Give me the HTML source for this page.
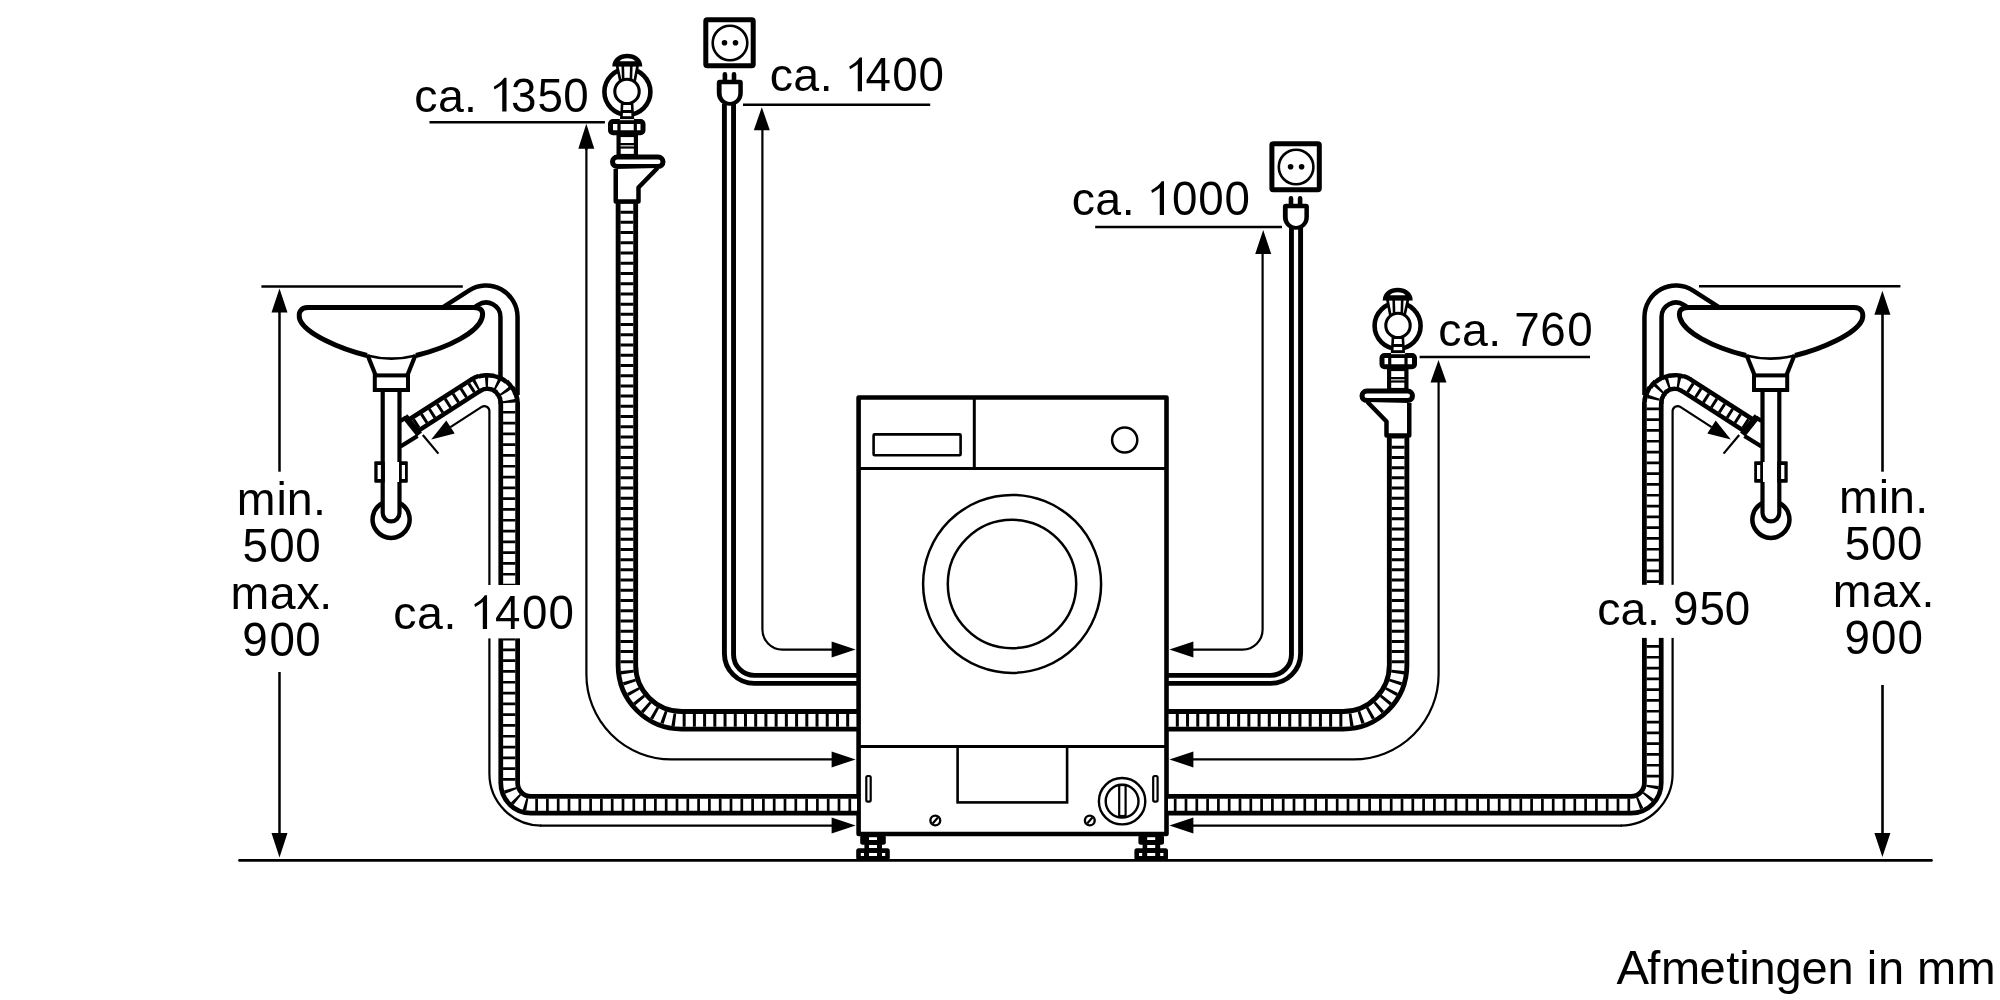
<!DOCTYPE html>
<html><head><meta charset="utf-8"><style>
html,body{margin:0;padding:0;background:#fff;width:2000px;height:1000px;overflow:hidden}
svg{display:block;will-change:transform}
text{font-family:"Liberation Sans",sans-serif;fill:#000}
</style></head><body>
<svg width="2000" height="1000" viewBox="0 0 2000 1000">
<rect width="2000" height="1000" fill="#fff"/>
<path d="M239.5 860.4 H1931.5" stroke="#000" stroke-width="2.7" stroke-linecap="round"/>
<rect x="858.6" y="397.5" width="307.9" height="436.5" fill="#fff" stroke="#000" stroke-width="4.6" stroke-linejoin="round"/><path d="M860 468.5 H1165" fill="none" stroke="#000" stroke-width="3"/><path d="M974.3 399 V468" fill="none" stroke="#000" stroke-width="3"/><rect x="873.6" y="434.4" width="87" height="20.8" fill="none" stroke="#000" stroke-width="2.6" rx="1"/><circle cx="1124.7" cy="440" r="12.6" fill="none" stroke="#000" stroke-width="2.5"/><circle cx="1012.1" cy="583.9" r="89" fill="none" stroke="#000" stroke-width="2.5"/><circle cx="1012" cy="584" r="64.2" fill="none" stroke="#000" stroke-width="2.5"/><path d="M860 746.5 H1165" fill="none" stroke="#000" stroke-width="3"/><rect x="957.6" y="746.5" width="109.5" height="55.9" fill="none" stroke="#000" stroke-width="2.6"/><rect x="866.3" y="776" width="4.4" height="25.6" rx="1.5" fill="none" stroke="#000" stroke-width="2.2"/><rect x="1153.2" y="776" width="4.4" height="25.6" rx="1.5" fill="none" stroke="#000" stroke-width="2.2"/><circle cx="935.3" cy="820.5" r="4.9" fill="none" stroke="#000" stroke-width="2.4"/><path d="M932.6999999999999 823.5 L937.9 817.5" fill="none" stroke="#000" stroke-width="2.2"/><circle cx="1089.8" cy="820.5" r="4.9" fill="none" stroke="#000" stroke-width="2.4"/><path d="M1087.2 823.5 L1092.3999999999999 817.5" fill="none" stroke="#000" stroke-width="2.2"/><circle cx="1122.1" cy="801.2" r="23.2" fill="none" stroke="#000" stroke-width="2.4"/><circle cx="1122.1" cy="801.2" r="16.4" fill="none" stroke="#000" stroke-width="2.4"/><rect x="1119.2" y="785" width="6.4" height="31" fill="none" stroke="#000" stroke-width="2.2"/><g transform="translate(0,0)"><rect x="860.2" y="835" width="25.6" height="9.8" rx="2.5" fill="#000"/><rect x="864.4" y="843" width="17.6" height="7" fill="#000"/><rect x="856.2" y="848.2" width="33.6" height="12" rx="2.5" fill="#000"/><rect x="869" y="837.2" width="8" height="2.8" fill="#fff"/><rect x="869" y="845" width="8" height="3" fill="#fff"/><rect x="860.8" y="853" width="3.2" height="3" fill="#fff"/><rect x="869" y="853" width="8" height="3" fill="#fff"/><rect x="882" y="853" width="3.2" height="3" fill="#fff"/></g><g transform="translate(278.2,0)"><rect x="860.2" y="835" width="25.6" height="9.8" rx="2.5" fill="#000"/><rect x="864.4" y="843" width="17.6" height="7" fill="#000"/><rect x="856.2" y="848.2" width="33.6" height="12" rx="2.5" fill="#000"/><rect x="869" y="837.2" width="8" height="2.8" fill="#fff"/><rect x="869" y="845" width="8" height="3" fill="#fff"/><rect x="860.8" y="853" width="3.2" height="3" fill="#fff"/><rect x="869" y="853" width="8" height="3" fill="#fff"/><rect x="882" y="853" width="3.2" height="3" fill="#fff"/></g>
<path d="M857 720.3 H681.9 A55 55 0 0 1 626.9 665.3 V203" fill="none" stroke="#000" stroke-width="22.4"/><path d="M857 720.3 H681.9 A55 55 0 0 1 626.9 665.3 V203" fill="none" stroke="#fff" stroke-width="12.7"/><path d="M857 720.3 H681.9 A55 55 0 0 1 626.9 665.3 V203" fill="none" stroke="#000" stroke-width="12.899999999999999" stroke-dasharray="3.0 7.220000000000001" stroke-dashoffset="2.4"/>
<path d="M1168 720.3 H1343.1 A55 55 0 0 0 1398.1 665.3 V437" fill="none" stroke="#000" stroke-width="22.4"/><path d="M1168 720.3 H1343.1 A55 55 0 0 0 1398.1 665.3 V437" fill="none" stroke="#fff" stroke-width="12.7"/><path d="M1168 720.3 H1343.1 A55 55 0 0 0 1398.1 665.3 V437" fill="none" stroke="#000" stroke-width="12.899999999999999" stroke-dasharray="3.0 7.220000000000001" stroke-dashoffset="2.4"/>
<path d="M857 683.4 H754.4 A30 30 0 0 1 724.4 653.4 V104" fill="none" stroke="#000" stroke-width="4.9"/><path d="M857 675.4 H754.55 A21 21 0 0 1 733.55 654.4 V104" fill="none" stroke="#000" stroke-width="4.9"/>
<path d="M1168 683.4 H1270.6 A30 30 0 0 0 1300.6 653.4 V228" fill="none" stroke="#000" stroke-width="4.9"/><path d="M1168 675.4 H1270.45 A21 21 0 0 0 1291.45 654.4 V228" fill="none" stroke="#000" stroke-width="4.9"/>
<path d="M586.4 146 V674.4 A85 85 0 0 0 671.4 759.4 H834" fill="none" stroke="#000" stroke-width="2.2"/>
<path d="M1438.6 380 V674.4 A85 85 0 0 1 1353.6 759.4 H1191" fill="none" stroke="#000" stroke-width="2.2"/>
<path d="M855.6 759.4 L831.6 767.4 L831.6 751.4 Z" fill="#000"/>
<path d="M1169.4 759.4 L1193.4 751.4 L1193.4 767.4 Z" fill="#000"/>
<path d="M762.4 128 V629.6 A20 20 0 0 0 782.4 649.6 H834" fill="none" stroke="#000" stroke-width="2.2"/>
<path d="M1262.6 252 V629.6 A20 20 0 0 1 1242.6 649.6 H1191" fill="none" stroke="#000" stroke-width="2.2"/>
<path d="M855.6 649.6 L831.6 657.6 L831.6 641.6 Z" fill="#000"/>
<path d="M1169.4 649.6 L1193.4 641.6 L1193.4 657.6 Z" fill="#000"/>
<path d="M540 825.6 H834" fill="none" stroke="#000" stroke-width="2.2"/>
<path d="M1622.0 825.6 H1191" fill="none" stroke="#000" stroke-width="2.2"/>
<path d="M855.6 825.6 L831.6 833.6 L831.6 817.6 Z" fill="#000"/>
<path d="M1169.4 825.6 L1193.4 817.6 L1193.4 833.6 Z" fill="#000"/>
<path d="M429.5 122.2 H604.9" fill="none" stroke="#000" stroke-width="2.5"/>
<path d="M586.3 146 V150" fill="none" stroke="#000" stroke-width="2.2"/>
<path d="M586.3 123.8 L594.3 148.8 L578.3 148.8 Z" fill="#000"/>
<path d="M743 104.8 H930.2" fill="none" stroke="#000" stroke-width="2.5"/>
<path d="M761.8 107.2 L769.8 130.2 L753.8 130.2 Z" fill="#000"/>
<path d="M1095.2 227.1 H1282" fill="none" stroke="#000" stroke-width="2.5"/>
<path d="M1263.2 230.0 L1271.2 254.0 L1255.2 254.0 Z" fill="#000"/>
<path d="M1419.6 357.1 H1590" fill="none" stroke="#000" stroke-width="2.5"/>
<path d="M1438.5 360.0 L1446.5 382.5 L1430.5 382.5 Z" fill="#000"/>
<rect x="705.8" y="19.7" width="47.4" height="46.1" rx="1.5" fill="#fff" stroke="#000" stroke-width="5"/><circle cx="730" cy="43" r="17.3" fill="none" stroke="#000" stroke-width="2.6"/><circle cx="724.5" cy="42.8" r="2.8" fill="#000"/><circle cx="735.5" cy="42.8" r="2.8" fill="#000"/><rect x="722.6" y="72.1" width="4.6" height="10" rx="2.3" fill="#000"/><rect x="731.7" y="72.1" width="4.6" height="10" rx="2.3" fill="#000"/><path d="M716.8 82.8 Q716.8 79.8 719.8 79.8 H739.8 Q742.8 79.8 742.8 82.8 V93 C742.8 100.5 737 105.8 729.8 105.8 C722.6 105.8 716.8 100.5 716.8 93 Z" fill="#000"/><path d="M721.6 84.2 H738.3 V93 C738.3 98.5 734.5 102 729.95 102 C725.4 102 721.6 98.5 721.6 93 Z" fill="#fff"/>
<g transform="translate(566.1,124)"><rect x="705.8" y="19.7" width="47.4" height="46.1" rx="1.5" fill="#fff" stroke="#000" stroke-width="5"/><circle cx="730" cy="43" r="17.3" fill="none" stroke="#000" stroke-width="2.6"/><circle cx="724.5" cy="42.8" r="2.8" fill="#000"/><circle cx="735.5" cy="42.8" r="2.8" fill="#000"/><rect x="722.6" y="72.1" width="4.6" height="10" rx="2.3" fill="#000"/><rect x="731.7" y="72.1" width="4.6" height="10" rx="2.3" fill="#000"/><path d="M716.8 82.8 Q716.8 79.8 719.8 79.8 H739.8 Q742.8 79.8 742.8 82.8 V93 C742.8 100.5 737 105.8 729.8 105.8 C722.6 105.8 716.8 100.5 716.8 93 Z" fill="#000"/><path d="M721.6 84.2 H738.3 V93 C738.3 98.5 734.5 102 729.95 102 C725.4 102 721.6 98.5 721.6 93 Z" fill="#fff"/></g>
<circle cx="627.4" cy="91.8" r="23" fill="none" stroke="#000" stroke-width="4.6"/><path d="M616.9 65 L620.5 81.5 H634.6 L637.7 65 Z" fill="#fff" stroke="#000" stroke-width="2.7" stroke-linejoin="round"/><path d="M622.8 66 L623.2 80" fill="none" stroke="#000" stroke-width="2.6"/><path d="M631.3 66 L630.9 80" fill="none" stroke="#000" stroke-width="2.6"/><path d="M612.3 66.5 C612.3 49.5 642.3 49.5 642.3 66.5 Z" fill="#000"/><path d="M619.5 61.3 C621.5 57.2 633.1 57.2 635.1 61.3 Z" fill="#fff"/><circle cx="627" cy="91.4" r="12.2" fill="#fff" stroke="#000" stroke-width="3.1"/><path d="M622.1 103.8 L621.3 119 H632.9 L632.1 103.8 Z" fill="#fff" stroke="#000" stroke-width="2.6"/><rect x="621" y="110" width="12" height="3" fill="#000"/><rect x="620.8" y="116.2" width="12.4" height="2.9" fill="#000"/><rect x="610.5" y="121.5" width="32.5" height="11.3" rx="2.5" fill="#fff" stroke="#000" stroke-width="5"/><path d="M619 121 V133" fill="none" stroke="#000" stroke-width="3.2"/><path d="M635.3 121 V133" fill="none" stroke="#000" stroke-width="3.2"/><rect x="619.8" y="119.1" width="14.2" height="1.1" fill="#fff"/><rect x="618.6" y="135" width="17.3" height="21" fill="#fff" stroke="#000" stroke-width="4.2"/><rect x="618.6" y="143" width="17.3" height="5.6" fill="#000"/><rect x="620.5" y="145.3" width="13.5" height="1.1" fill="#fff"/><rect x="612.5" y="157" width="50.5" height="9.6" rx="4.8" fill="#fff" stroke="#000" stroke-width="5"/><path d="M615.75 169 V201.5 H638.5 V187.5 L657.5 168" fill="#fff" stroke="#000" stroke-width="4.5" stroke-linejoin="round"/>
<g transform="translate(2025,234) scale(-1,1)"><circle cx="627.4" cy="91.8" r="23" fill="none" stroke="#000" stroke-width="4.6"/><path d="M616.9 65 L620.5 81.5 H634.6 L637.7 65 Z" fill="#fff" stroke="#000" stroke-width="2.7" stroke-linejoin="round"/><path d="M622.8 66 L623.2 80" fill="none" stroke="#000" stroke-width="2.6"/><path d="M631.3 66 L630.9 80" fill="none" stroke="#000" stroke-width="2.6"/><path d="M612.3 66.5 C612.3 49.5 642.3 49.5 642.3 66.5 Z" fill="#000"/><path d="M619.5 61.3 C621.5 57.2 633.1 57.2 635.1 61.3 Z" fill="#fff"/><circle cx="627" cy="91.4" r="12.2" fill="#fff" stroke="#000" stroke-width="3.1"/><path d="M622.1 103.8 L621.3 119 H632.9 L632.1 103.8 Z" fill="#fff" stroke="#000" stroke-width="2.6"/><rect x="621" y="110" width="12" height="3" fill="#000"/><rect x="620.8" y="116.2" width="12.4" height="2.9" fill="#000"/><rect x="610.5" y="121.5" width="32.5" height="11.3" rx="2.5" fill="#fff" stroke="#000" stroke-width="5"/><path d="M619 121 V133" fill="none" stroke="#000" stroke-width="3.2"/><path d="M635.3 121 V133" fill="none" stroke="#000" stroke-width="3.2"/><rect x="619.8" y="119.1" width="14.2" height="1.1" fill="#fff"/><rect x="618.6" y="135" width="17.3" height="21" fill="#fff" stroke="#000" stroke-width="4.2"/><rect x="618.6" y="143" width="17.3" height="5.6" fill="#000"/><rect x="620.5" y="145.3" width="13.5" height="1.1" fill="#fff"/><rect x="612.5" y="157" width="50.5" height="9.6" rx="4.8" fill="#fff" stroke="#000" stroke-width="5"/><path d="M615.75 169 V201.5 H638.5 V187.5 L657.5 168" fill="#fff" stroke="#000" stroke-width="4.5" stroke-linejoin="round"/></g>
<path d="M261.4 286.4 H462.8" fill="none" stroke="#000" stroke-width="2.5"/>
<path d="M279.5 310 V471.7" fill="none" stroke="#000" stroke-width="2.5"/><path d="M279.5 672 V835" fill="none" stroke="#000" stroke-width="2.5"/>
<path d="M279.5 288.5 L287.5 312.5 L271.5 312.5 Z" fill="#000"/><path d="M279.5 857.4 L271.5 833.1 L287.5 833.1 Z" fill="#000"/>
<path d="M1699 286.2 H1900.4" fill="none" stroke="#000" stroke-width="2.5"/>
<path d="M1882.5 313 V471.7" fill="none" stroke="#000" stroke-width="2.6"/><path d="M1882.5 685 V835" fill="none" stroke="#000" stroke-width="2.6"/>
<path d="M1882.4 290.8 L1890.4 314.8 L1874.4 314.8 Z" fill="#000"/><path d="M1882.4 857.0 L1874.4 833.0 L1890.4 833.0 Z" fill="#000"/>
<defs><clipPath id="rimclip" clipPathUnits="userSpaceOnUse"><path d="M0 0 H2200 V307.6 H0 Z M488 300 H600 V600 H488 Z"/></clipPath></defs>
<g clip-path="url(#rimclip)"><path d="M440 319.4 L473.5 297.7 A23 23 0 0 1 509 317 V395" fill="none" stroke="#000" stroke-width="21.6"/><path d="M440 319.4 L473.5 297.7 A23 23 0 0 1 509 317 V395" fill="none" stroke="#fff" stroke-width="12.6"/></g><path d="M367 355.5 C340 349 306 334 300 320 C297.5 312 301 307.6 308 307.6 H474 C481 307.6 484 311 482 318 C478 332 450 347 416 355.5" fill="#fff" stroke="#000" stroke-width="5" stroke-linejoin="round"/><path d="M367 355.5 Q391.5 361.8 416 355.5" fill="none" stroke="#000" stroke-width="2.6"/><path d="M367.5 355 L375.5 375" fill="none" stroke="#000" stroke-width="4.2"/><path d="M415.5 355 L407.5 375" fill="none" stroke="#000" stroke-width="4.2"/><rect x="374.8" y="375.4" width="33.2" height="14.6" fill="#fff" stroke="#000" stroke-width="4"/><path d="M382.7 392 V513 A8.4 8.4 0 0 0 399.5 513 V392" fill="none" stroke="#000" stroke-width="4.2"/><path d="M399.5 502.9 A18.5 18.5 0 1 1 382.7 502.9" fill="none" stroke="#000" stroke-width="4.5"/><rect x="374.3" y="461.2" width="10.5" height="21.6" rx="1" fill="#000"/><rect x="377.6" y="465" width="3.3" height="14" fill="#fff"/><rect x="399.3" y="461.2" width="8.5" height="21.6" rx="1" fill="#000"/><rect x="401.8" y="465" width="3.2" height="14" fill="#fff"/><rect x="385" y="462" width="14" height="20" fill="#fff"/><path d="M857 804.8 H530.9 A21.7 21.7 0 0 1 509.2 783.1 V402.3" fill="none" stroke="#000" stroke-width="21.60"/><path d="M509.20 404.00 A22 22 0 0 0 508.08 397.06" fill="none" stroke="#000" stroke-width="21.51"/><path d="M508.41 398.17 A22 22 0 0 0 505.49 391.78" fill="none" stroke="#000" stroke-width="20.87"/><path d="M506.11 392.75 A22 22 0 0 0 501.60 387.36" fill="none" stroke="#000" stroke-width="19.91"/><path d="M502.45 388.14 A22 22 0 0 0 496.67 384.14" fill="none" stroke="#000" stroke-width="18.90"/><path d="M497.70 384.67 A22 22 0 0 0 491.07 382.34" fill="none" stroke="#000" stroke-width="18.18"/><path d="M492.20 382.57 A22 22 0 0 0 485.19 382.09" fill="none" stroke="#000" stroke-width="18.00"/><path d="M486.34 382.02 A22 22 0 0 0 479.45 383.41" fill="none" stroke="#000" stroke-width="18.22"/><path d="M480.54 383.03 A22 22 0 0 0 475.22 385.55" fill="none" stroke="#000" stroke-width="18.86"/><path d="M476.64 384.62 L411.5 426.6" fill="none" stroke="#000" stroke-width="19.00"/><path d="M857 804.8 H530.9 A21.7 21.7 0 0 1 509.2 783.1 V402.3" fill="none" stroke="#fff" stroke-width="12.10"/><path d="M509.20 404.00 A22 22 0 0 0 508.08 397.06" fill="none" stroke="#fff" stroke-width="12.02"/><path d="M508.41 398.17 A22 22 0 0 0 505.49 391.78" fill="none" stroke="#fff" stroke-width="11.48"/><path d="M506.11 392.75 A22 22 0 0 0 501.60 387.36" fill="none" stroke="#fff" stroke-width="10.64"/><path d="M502.45 388.14 A22 22 0 0 0 496.67 384.14" fill="none" stroke="#fff" stroke-width="9.78"/><path d="M497.70 384.67 A22 22 0 0 0 491.07 382.34" fill="none" stroke="#fff" stroke-width="9.15"/><path d="M492.20 382.57 A22 22 0 0 0 485.19 382.09" fill="none" stroke="#fff" stroke-width="9.00"/><path d="M486.34 382.02 A22 22 0 0 0 479.45 383.41" fill="none" stroke="#fff" stroke-width="9.22"/><path d="M480.54 383.03 A22 22 0 0 0 475.22 385.55" fill="none" stroke="#fff" stroke-width="9.86"/><path d="M476.64 384.62 L411.5 426.6" fill="none" stroke="#fff" stroke-width="10.00"/><path d="M857 804.8 H530.9 A21.7 21.7 0 0 1 509.2 783.1 V404 A22 22 0 0 0 475.22 385.55" fill="none" stroke="#000" stroke-width="12.3" stroke-dasharray="2.7 8.10" stroke-dashoffset="4.95"/><path d="M475.22 385.55 L411.5 426.6" fill="none" stroke="#000" stroke-width="10.2" stroke-dasharray="3 6.4" stroke-dashoffset="6.6"/><path d="M404.8 416.2 L419.4 434.6" fill="none" stroke="#000" stroke-width="6.5"/><path d="M406 417.5 L400.5 421" fill="none" stroke="#000" stroke-width="4.2"/><path d="M417.5 436 L400.5 446.5" fill="none" stroke="#000" stroke-width="4.4"/><path d="M450.4 427.2 L481.7 406.9 A5 5 0 0 1 489.4 411.1 V773.6 A52 52 0 0 0 541.4 825.6" fill="none" stroke="#000" stroke-width="2.2"/><path d="M431.2 439.5 L446.3 420.5 L454.7 433.5 Z" fill="#000"/><path d="M422.8 435 L438.4 453.6" fill="none" stroke="#000" stroke-width="2.2"/>
<g transform="translate(2162.0,0) scale(-1,1)"><g clip-path="url(#rimclip)"><path d="M440 319.4 L473.5 297.7 A23 23 0 0 1 509 317 V395" fill="none" stroke="#000" stroke-width="21.6"/><path d="M440 319.4 L473.5 297.7 A23 23 0 0 1 509 317 V395" fill="none" stroke="#fff" stroke-width="12.6"/></g><path d="M367 355.5 C340 349 306 334 300 320 C297.5 312 301 307.6 308 307.6 H474 C481 307.6 484 311 482 318 C478 332 450 347 416 355.5" fill="#fff" stroke="#000" stroke-width="5" stroke-linejoin="round"/><path d="M367 355.5 Q391.5 361.8 416 355.5" fill="none" stroke="#000" stroke-width="2.6"/><path d="M367.5 355 L375.5 375" fill="none" stroke="#000" stroke-width="4.2"/><path d="M415.5 355 L407.5 375" fill="none" stroke="#000" stroke-width="4.2"/><rect x="374.8" y="375.4" width="33.2" height="14.6" fill="#fff" stroke="#000" stroke-width="4"/><path d="M382.7 392 V513 A8.4 8.4 0 0 0 399.5 513 V392" fill="none" stroke="#000" stroke-width="4.2"/><path d="M399.5 502.9 A18.5 18.5 0 1 1 382.7 502.9" fill="none" stroke="#000" stroke-width="4.5"/><rect x="374.3" y="461.2" width="10.5" height="21.6" rx="1" fill="#000"/><rect x="377.6" y="465" width="3.3" height="14" fill="#fff"/><rect x="399.3" y="461.2" width="8.5" height="21.6" rx="1" fill="#000"/><rect x="401.8" y="465" width="3.2" height="14" fill="#fff"/><rect x="385" y="462" width="14" height="20" fill="#fff"/></g>
<path d="M1168 804.8 H1631.1 A21.7 21.7 0 0 0 1652.8 783.1 V402.3" fill="none" stroke="#000" stroke-width="21.60"/><path d="M1652.80 404.00 A22 22 0 0 1 1653.92 397.06" fill="none" stroke="#000" stroke-width="21.51"/><path d="M1653.59 398.17 A22 22 0 0 1 1656.51 391.78" fill="none" stroke="#000" stroke-width="20.87"/><path d="M1655.89 392.75 A22 22 0 0 1 1660.40 387.36" fill="none" stroke="#000" stroke-width="19.91"/><path d="M1659.55 388.14 A22 22 0 0 1 1665.33 384.14" fill="none" stroke="#000" stroke-width="18.90"/><path d="M1664.30 384.67 A22 22 0 0 1 1670.93 382.34" fill="none" stroke="#000" stroke-width="18.18"/><path d="M1669.80 382.57 A22 22 0 0 1 1676.81 382.09" fill="none" stroke="#000" stroke-width="18.00"/><path d="M1675.66 382.02 A22 22 0 0 1 1682.55 383.41" fill="none" stroke="#000" stroke-width="18.22"/><path d="M1681.46 383.03 A22 22 0 0 1 1686.78 385.55" fill="none" stroke="#000" stroke-width="18.86"/><path d="M1685.36 384.62 L1750.5 426.6" fill="none" stroke="#000" stroke-width="19.00"/><path d="M1168 804.8 H1631.1 A21.7 21.7 0 0 0 1652.8 783.1 V402.3" fill="none" stroke="#fff" stroke-width="12.10"/><path d="M1652.80 404.00 A22 22 0 0 1 1653.92 397.06" fill="none" stroke="#fff" stroke-width="12.02"/><path d="M1653.59 398.17 A22 22 0 0 1 1656.51 391.78" fill="none" stroke="#fff" stroke-width="11.48"/><path d="M1655.89 392.75 A22 22 0 0 1 1660.40 387.36" fill="none" stroke="#fff" stroke-width="10.64"/><path d="M1659.55 388.14 A22 22 0 0 1 1665.33 384.14" fill="none" stroke="#fff" stroke-width="9.78"/><path d="M1664.30 384.67 A22 22 0 0 1 1670.93 382.34" fill="none" stroke="#fff" stroke-width="9.15"/><path d="M1669.80 382.57 A22 22 0 0 1 1676.81 382.09" fill="none" stroke="#fff" stroke-width="9.00"/><path d="M1675.66 382.02 A22 22 0 0 1 1682.55 383.41" fill="none" stroke="#fff" stroke-width="9.22"/><path d="M1681.46 383.03 A22 22 0 0 1 1686.78 385.55" fill="none" stroke="#fff" stroke-width="9.86"/><path d="M1685.36 384.62 L1750.5 426.6" fill="none" stroke="#fff" stroke-width="10.00"/><path d="M1168 804.8 H1631.1 A21.7 21.7 0 0 0 1652.8 783.1 V404 A22 22 0 0 1 1686.78 385.55" fill="none" stroke="#000" stroke-width="12.3" stroke-dasharray="2.7 8.10" stroke-dashoffset="4.95"/><path d="M1686.78 385.55 L1750.5 426.6" fill="none" stroke="#000" stroke-width="10.2" stroke-dasharray="3 6.4" stroke-dashoffset="6.6"/>
<g transform="translate(2162.0,0) scale(-1,1)"><path d="M404.8 416.2 L419.4 434.6" fill="none" stroke="#000" stroke-width="6.5"/><path d="M406 417.5 L400.5 421" fill="none" stroke="#000" stroke-width="4.2"/><path d="M417.5 436 L400.5 446.5" fill="none" stroke="#000" stroke-width="4.4"/><path d="M450.4 427.2 L481.7 406.9 A5 5 0 0 1 489.4 411.1 V773.6 A52 52 0 0 0 541.4 825.6" fill="none" stroke="#000" stroke-width="2.2"/><path d="M431.2 439.5 L446.3 420.5 L454.7 433.5 Z" fill="#000"/><path d="M422.8 435 L438.4 453.6" fill="none" stroke="#000" stroke-width="2.2"/></g>
<rect x="480" y="585" width="50" height="53.4" fill="#fff"/>
<rect x="1633" y="584.8" width="50" height="53.1" fill="#fff"/>
<text transform="translate(0,111.6) scale(1.0,1.0)" x="414.30 438.05 464.02" y="0" font-size="46.5">ca.</text><path d="M506.50 77.85 L506.50 111.60 L502.25 111.60 L502.25 84.35 C500.00 86.35 497.50 87.85 494.50 89.60 L493.75 86.85 C498.00 84.35 502.00 81.35 504.25 77.85 Z" fill="#000"/><text transform="translate(0,111.6) scale(0.955,1.0)" x="535.09 562.74 589.75" y="0" font-size="47.9">350</text>
<text transform="translate(0,91.25) scale(1.0,1.0)" x="769.80 793.35 819.77" y="0" font-size="46.5">ca.</text><path d="M862.00 57.50 L862.00 91.25 L857.75 91.25 L857.75 64.00 C855.50 66.00 853.00 67.50 850.00 69.25 L849.25 66.50 C853.50 64.00 857.50 61.00 859.75 57.50 Z" fill="#000"/><text transform="translate(0,91.25) scale(0.955,1.0)" x="906.23 934.26 961.74" y="0" font-size="47.9">400</text>
<text transform="translate(0,214.9) scale(1.0,1.0)" x="1071.80 1095.30 1121.77" y="0" font-size="46.5">ca.</text><path d="M1164.00 181.15 L1164.00 214.90 L1159.75 214.90 L1159.75 187.65 C1157.50 189.65 1155.00 191.15 1152.00 192.90 L1151.25 190.15 C1155.50 187.65 1159.50 184.65 1161.75 181.15 Z" fill="#000"/><text transform="translate(0,214.9) scale(0.955,1.0)" x="1227.19 1254.68 1282.16" y="0" font-size="47.9">000</text>
<text transform="translate(0,346.25) scale(1.0,1.0)" x="1438.30 1462.05 1488.27" y="0" font-size="46.5">ca.</text><text transform="translate(0,346.25) scale(0.955,1.0)" x="1585.52 1612.74 1641.06" y="0" font-size="47.9">760</text>
<text transform="translate(0,624.75) scale(1.0,1.0)" x="1597.30 1620.55 1647.02" y="0" font-size="46.5">ca.</text><text transform="translate(0,624.75) scale(0.955,1.0)" x="1751.88 1779.55 1805.99" y="0" font-size="47.9">950</text>
<text transform="translate(0,628.9) scale(1.0,1.0)" x="393.30 417.05 443.52" y="0" font-size="46.5">ca.</text><path d="M487.05 595.15 L487.05 628.90 L482.80 628.90 L482.80 601.65 C480.55 603.65 478.05 605.15 475.05 606.90 L474.30 604.15 C478.55 601.65 482.55 598.65 484.80 595.15 Z" fill="#000"/><text transform="translate(0,628.9) scale(0.955,1.0)" x="518.37 546.72 574.36" y="0" font-size="47.9">400</text>
<text transform="translate(0,514.9) scale(1.0,1.0)" x="236.83 276.38 286.83 313.07" y="0" font-size="46.5">min.</text>
<text transform="translate(0,561.7) scale(0.955,1.0)" x="254.00 281.90 309.13" y="0" font-size="47.9">500</text>
<text transform="translate(0,608.9) scale(1.0,1.0)" x="230.48 269.85 296.44 319.32" y="0" font-size="46.5">max.</text>
<text transform="translate(0,655.5) scale(0.955,1.0)" x="253.61 282.27 309.13" y="0" font-size="47.9">900</text>
<text transform="translate(0,513.1) scale(1.0,1.0)" x="1839.08 1878.63 1889.03 1915.32" y="0" font-size="46.5">min.</text>
<text transform="translate(0,560.3) scale(0.955,1.0)" x="1931.75 1959.13 1986.46" y="0" font-size="47.9">500</text>
<text transform="translate(0,607.35) scale(1.0,1.0)" x="1832.73 1872.10 1898.24 1921.57" y="0" font-size="46.5">max.</text>
<text transform="translate(0,654.1) scale(0.955,1.0)" x="1931.36 1959.07 1986.88" y="0" font-size="47.9">900</text>
<text transform="translate(0,983.5) scale(1.0,1.0)" x="1616.40" y="0" font-size="48.8">A</text>
<text transform="translate(0,983.5) scale(1.0,1.0)" x="1647.34 1660.90 1699.53 1726.30 1739.35 1749.40 1775.53 1801.53 1827.40" y="0" font-size="47">fmetingen</text>
<text transform="translate(0,983.5) scale(1.0,1.0)" x="1866.85 1877.90" y="0" font-size="47">in</text>
<text transform="translate(0,983.5) scale(1.0,1.0)" x="1916.90 1956.40" y="0" font-size="47">mm</text>
</svg>
</body></html>
